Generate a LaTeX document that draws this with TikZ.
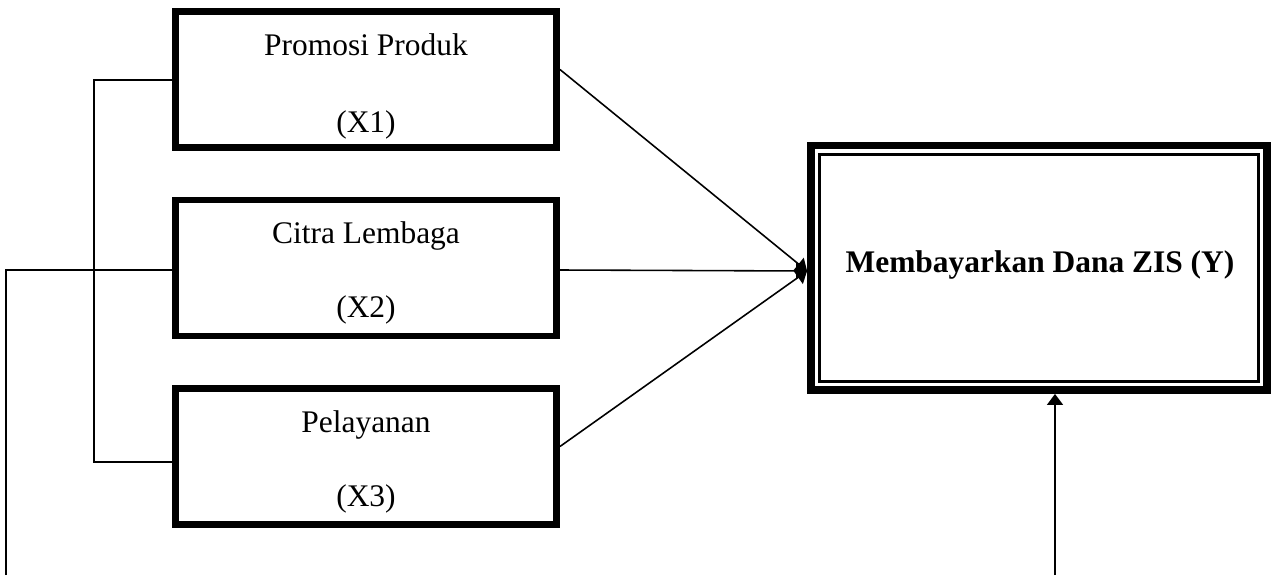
\documentclass[tikz,border=0pt]{standalone}
\usepackage{fontspec}
\setmainfont{Liberation Serif}
\usetikzlibrary{calc,arrows.meta,positioning}

\begin{document}
\begin{tikzpicture}[x=0.02cm, y=-0.02cm,
		box/.style={draw, line width=3.7pt, minimum width=7.63cm, minimum height=2.73cm},
		lbl/.style={anchor=base, font=\fontsize{17.9}{21}\selectfont},
		link/.style={line width=1.1pt},
		arr/.style={line width=0.9pt, -{Triangle[length=0.22cm, width=0.32cm]}}]
		%%%%% START %%%%%
		\useasboundingbox (0, 0) rectangle (1275, 575);
		
		\node[box] (X1) at (366, 79.5) {};
		\node[box] (X2) at (366, 268) {};
		\node[box] (X3) at (366, 456.5) {};
		
		\node[lbl] (t1a) at ($(X1.north)+(0, 47)$) {Promosi Produk};
		\node[lbl] (t1b) at ($(X1.north)+(0, 124)$) {(X1)};
		\node[lbl] (t2a) at ($(X2.north)+(0, 47)$) {Citra Lembaga};
		\node[lbl] (t2b) at ($(X2.north)+(0, 121)$) {(X2)};
		\node[lbl] (t3a) at ($(X3.north)+(0, 47)$) {Pelayanan};
		\node[lbl] (t3b) at ($(X3.north)+(0, 121)$) {(X3)};
		
		% dependent variable, double frame
		\node[draw, line width=4.5pt, minimum width=9.12cm, minimum height=4.89cm] (Y) at (1039, 267.75) {};
		\node[lbl, font=\fontsize{17.9}{21}\selectfont\bfseries] (ty) at (1040, 272) {Membayarkan Dana ZIS (Y)};
		\draw[line width=1.7pt] ($(Y.north west)+(12.5, 12.5)$) rectangle ($(Y.south east)+(-12.5, -12.5)$);
		
		% arrows into Y
		\coordinate (tip) at (Y.west |- 0, 271);
		\draw[arr] ($(X1.east)+(0, -10)$) -- (tip);
		\draw[arr] ($(X2.east)+(0, 2)$) -- (tip);
		\draw[arr] ($(X3.east)+(0, -10)$) -- (tip);
		
		% bracket on the left
		\coordinate (br) at (94, 0);
		\coordinate (lft) at (6, 575);
		\coordinate (w1) at ($(X1.west)+(0, 0.5)$);
		\coordinate (w2) at ($(X2.west)+(0, 2)$);
		\coordinate (w3) at ($(X3.west)+(0, 5.5)$);
		\draw[link] (w1) -- (w1 -| br) -- (w3 -| br) -- (w3);
		\draw[link] (lft) |- (w2);
		
		% arrow from below
		\coordinate (bot) at (1055, 575);
		\draw[arr] (bot) -- (bot |- Y.south);
		%%%%% END %%%%%
	\end{tikzpicture}
\end{document}
